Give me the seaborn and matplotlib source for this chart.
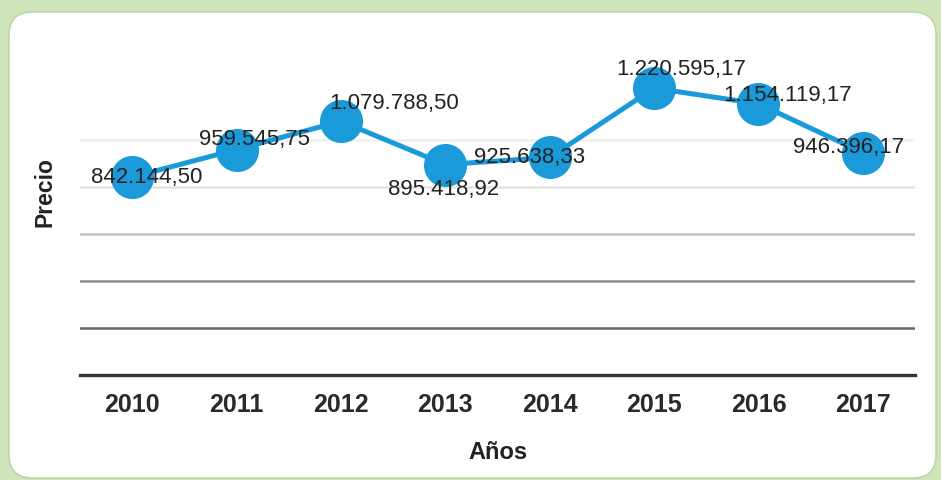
import matplotlib
matplotlib.use("Agg")
import matplotlib.pyplot as plt
import seaborn as sns
import pandas as pd
from matplotlib.patches import FancyBboxPatch

years = ["2010", "2011", "2012", "2013", "2014", "2015", "2016", "2017"]
precio = [842144.50, 959545.75, 1079788.50, 895418.92, 925638.33,
          1220595.17, 1154119.17, 946396.17]
y_ticks = [0, 200000, 400000, 600000, 800000, 1000000, 1200000]

# label offsets (pixels) relative to each point
label_dx = [15, 18, 53, -2, -20, 27, 29, -14]
label_dy = [0, 10, 18, -25, 0, 19, 8, 5]

def fmt_es(v):
    s = f"{v:,.2f}"
    return s.replace(",", "X").replace(".", ",").replace("X", ".")

sns.set_theme(style="white")
plt.rcParams['font.family'] = ['Liberation Sans', 'DejaVu Sans']

fig = plt.figure(figsize=(9.41, 4.80), dpi=100)
fig.patch.set_facecolor("#cfe4ba")
panel = FancyBboxPatch((9 / 941, 2 / 480), 927 / 941, 466 / 480,
                       boxstyle="round,pad=0,rounding_size=0.025",
                       transform=fig.transFigure, facecolor="white",
                       edgecolor="#b8d49e", linewidth=1, zorder=-5,
                       mutation_aspect=941 / 480)
fig.patches.append(panel)

ax = fig.add_axes([80 / 941, 105 / 480, 835 / 941, 329 / 480])
ax.set_zorder(2)
ax.set_facecolor("none")

df = pd.DataFrame({"Años": years, "Precio": precio})
sns.lineplot(data=df, x="Años", y="Precio", ax=ax, color="#1a9ad8",
             linewidth=3.6, marker="o", markersize=31,
             markeredgewidth=0, zorder=3)

ax.set_xlim(-0.5, 7.5)
ax.set_ylim(0, 1400000)
ax.set_yticks(y_ticks)
ax.set_yticklabels([])
ax.tick_params(axis="y", length=0)
ax.tick_params(axis="x", length=0, pad=13, labelsize=18, labelcolor="#2a2a2a")
for t in ax.get_xticklabels():
    t.set_fontweight("bold")

ax.grid(axis="y", linewidth=1.8)
grid_colors = ["#333333", "#666666", "#8c8c8c", "#c4c4c4", "#e4e4e4", "#f0f0f0", "#ffffff"]
for gl, c in zip(ax.get_ygridlines(), grid_colors):
    gl.set_color(c)
ax.grid(axis="x", visible=False)
for s in ["top", "right", "left"]:
    ax.spines[s].set_visible(False)
ax.spines["bottom"].set_color("#333333")
ax.spines["bottom"].set_linewidth(2.4)

ax.set_xlabel("Años", fontsize=17, fontweight="bold", color="#222222")
ax.xaxis.set_label_coords(0.5, -0.2)
ax.set_ylabel("Precio", fontsize=16.5, fontweight="bold", color="#222222")
ax.yaxis.set_label_coords(-0.028, 0.555)

for i, v in enumerate(precio):
    ax.annotate(fmt_es(v), xy=(i, v),
                xytext=(label_dx[i] * 0.72, label_dy[i] * 0.72),
                textcoords="offset points", ha="center", va="center",
                fontsize=16, color="#222222", zorder=5)

fig.savefig("out.png", dpi=100, facecolor=fig.get_facecolor())
